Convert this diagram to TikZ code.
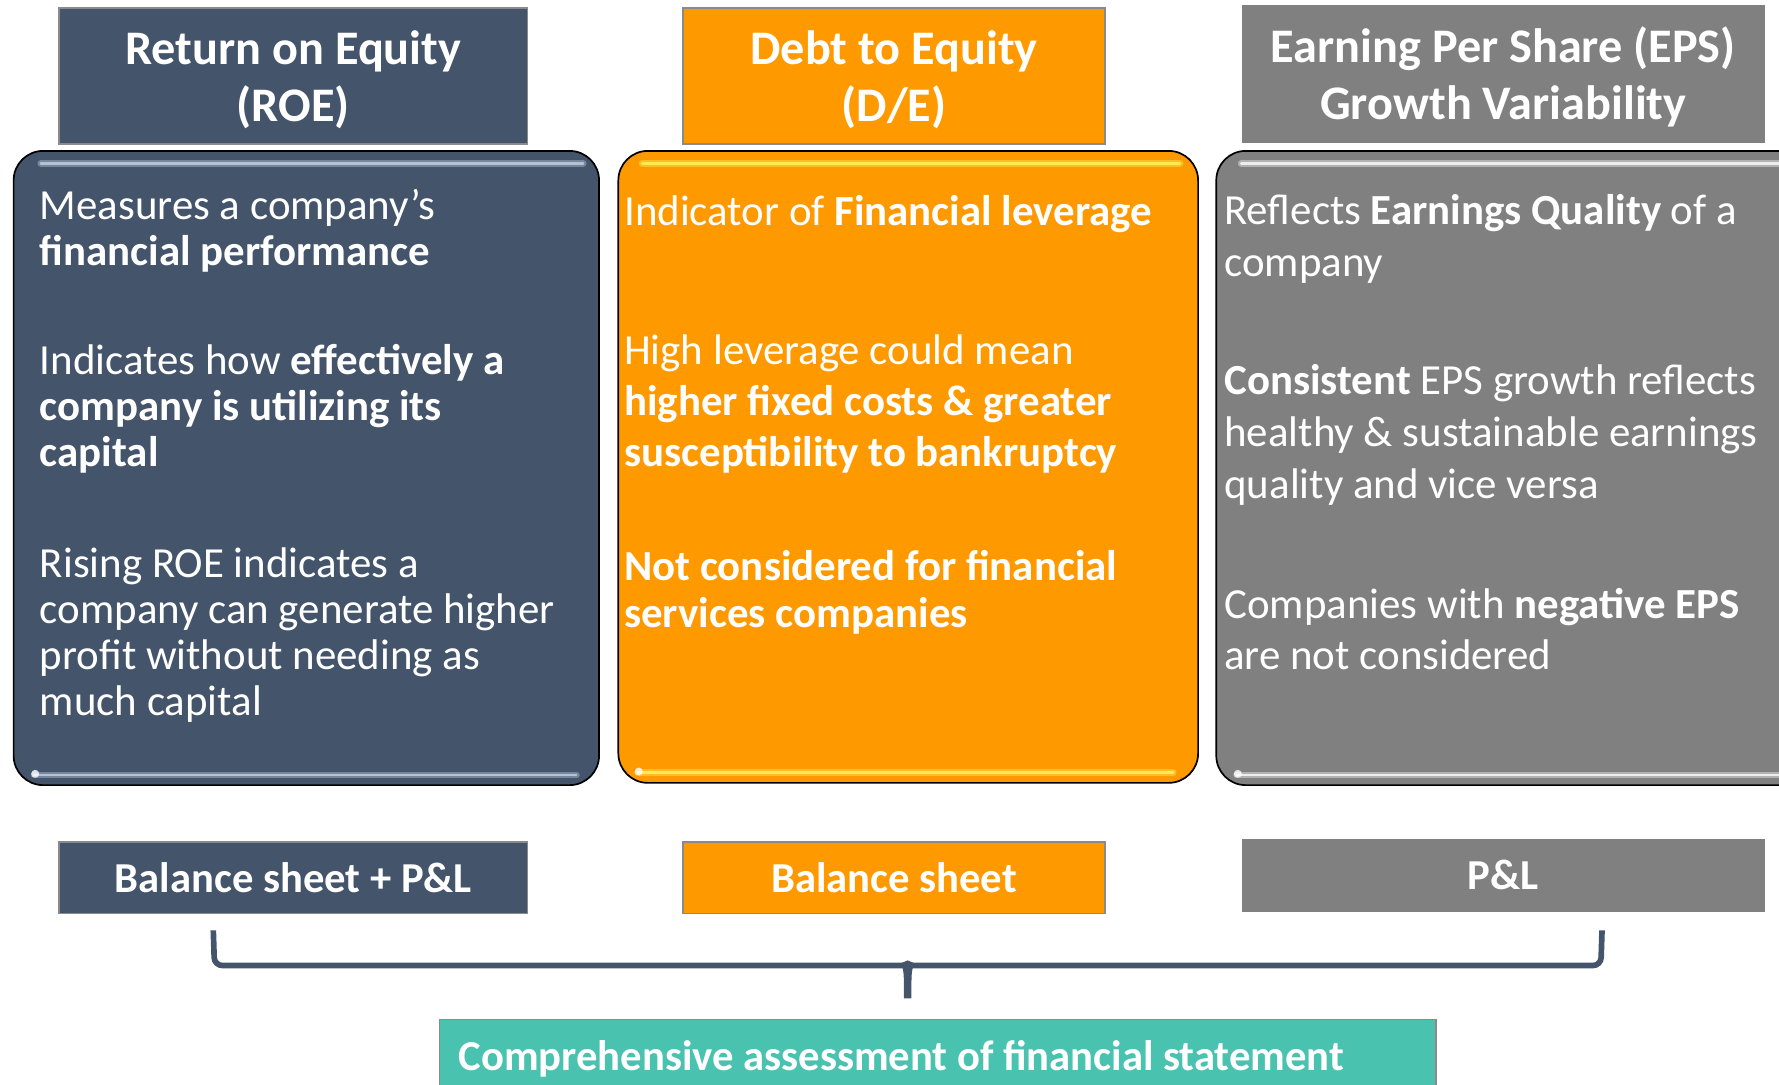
\documentclass[tikz,border=0pt]{standalone}
\usepackage{fontspec}
\setmainfont{Carlito}
\definecolor{slate}{HTML}{44546A}
\definecolor{slatehi}{HTML}{B4C2D6}
\definecolor{amber}{HTML}{FF9900}
\definecolor{amberhi}{HTML}{FFEA55}
\definecolor{stone}{HTML}{808080}
\definecolor{stonehi}{HTML}{EDEDED}
\definecolor{teal}{HTML}{4AC2B0}
\definecolor{edgegray}{HTML}{8A8A8A}
\begin{document}
\begin{tikzpicture}[x=1pt,y=-1pt,
  headbox/.style={draw=edgegray, line width=1.2pt, text=white, align=center,
    inner sep=0pt, font=\fontsize{42.5}{50}\selectfont\bfseries},
  panel/.style={draw=black, line width=1.5pt, rounded corners=26pt, inner sep=0pt},
  srcbox/.style={draw=edgegray, line width=1.2pt, text=white, inner sep=0pt,
    minimum height=63pt, font=\fontsize{37.6}{44}\selectfont\bfseries},
  bodytxt/.style={text=white, align=left, inner sep=0pt, anchor=base west},
  headtxt/.style={text=white, align=center, inner sep=0pt, font=\fontsize{42.5}{50}\selectfont\bfseries},
  glosswide/.style={line width=6pt, line cap=round, opacity=0.45},
  glossthin/.style={line width=2.2pt, line cap=round}
]
\clip (0,0) rectangle (1568,956);

% column headers
\node[headbox, fill=slate, minimum width=413pt, minimum height=120pt] (h1) at (258.5,67) {};
\node[headbox, fill=amber, minimum width=372pt, minimum height=120pt] (h2) at (788,67) {};
\node[headbox, fill=stone, draw=stone, minimum width=460pt, minimum height=120pt] (h3) at (1325,65) {};
\node[headtxt] (h1t) at ([yshift=-3pt]h1.center) {Return on Equity\\(ROE)};
\node[headtxt] (h2t) at ([yshift=-3pt]h2.center) {Debt to Equity\\(D/E)};
\node[headtxt] (h3t) at ([yshift=-3pt]h3.center) {Earning Per Share (EPS)\\Growth Variability};

% rounded description panels
\node[panel, fill=slate, minimum width=516pt, minimum height=559pt] (p1) at (270,412.5) {};
\node[panel, fill=amber, minimum width=511pt, minimum height=557pt] (p2) at (800.5,411.5) {};
\node[panel, fill=stone, minimum width=540pt, minimum height=559pt] (p3) at (1342,412.5) {};

% glossy highlight strips
\foreach \c/\xa/\xb/\ya/\xc/\xd/\yb in {slatehi/36/514/144/30/508/683, amberhi/566/1040/144/562/1034/681, stonehi/1094/1568/144/1090/1568/683}{
  \draw[glosswide, \c] (\xa,\ya) -- (\xb,\ya);
  \draw[glossthin, \c] (\xa,\ya) -- (\xb,\ya);
  \draw[glosswide, \c] (\xc,\yb) -- (\xd,\yb);
  \draw[glossthin, \c] (\xc,\yb) -- (\xd,\yb);
  \fill[white, opacity=0.8] (\xc+1,\yb-1) circle (3.5pt);
}

% panel texts (each node is anchored at the baseline of its last line)
\begin{scope}[every node/.append style={font=\fontsize{37.8}{40.5}\selectfont}]
\node[bodytxt] (t11) at (35,234) {Measures a company’s\\\textbf{financial performance}};
\node[bodytxt] (t12) at (35,411) {Indicates how \textbf{effectively a}\\\textbf{company is utilizing its}\\\textbf{capital}};
\node[bodytxt] (t13) at (35,630.5) {Rising ROE indicates a\\company can generate higher\\profit without needing as\\much capital};
\end{scope}
\node[bodytxt, font=\fontsize{37.8}{45}\selectfont] (t21) at (550,199) {Indicator of \textbf{Financial leverage}};
\node[bodytxt, font=\fontsize{37.8}{45}\selectfont] (t22) at (550,411) {High leverage could mean\\\textbf{higher fixed costs \& greater}\\\textbf{susceptibility to bankruptcy}};
\node[bodytxt, font=\fontsize{37.8}{41}\selectfont] (t23) at (550,553) {\textbf{Not considered for financial}\\\textbf{services companies}};
\begin{scope}[every node/.append style={font=\fontsize{37.8}{45.5}\selectfont}]
\node[bodytxt] (t31) at (1079,243.5) {Reflects \textbf{Earnings Quality} of a\\company};
\node[bodytxt] (t32) at (1079,439) {\textbf{Consistent} EPS growth reflects\\healthy \& sustainable earnings\\quality and vice versa};
\node[bodytxt] (t33) at (1079,590.5) {Companies with \textbf{negative EPS}\\are not considered};
\end{scope}

% data sources
\node[srcbox, fill=slate, minimum width=413pt] (s1) at (258.5,773.5) {Balance sheet + P\&L};
\node[srcbox, fill=amber, minimum width=372pt] (s2) at (788,773.5) {Balance sheet};
\node[srcbox, fill=stone, draw=stone, minimum width=460pt] (s3) at (1325,771.5) {P\&L};

% grouping brace
\coordinate (bl) at (188,820);
\coordinate (br) at (1412,820);
\draw[slate, line width=5pt, rounded corners=7pt] (bl) -- (189,851) -- (1411,851) -- (br);
\fill[slate] (794,849) -- (800,846.5) -- (806,849) .. controls (803.3,856) .. (803.3,880) -- (796.7,880) .. controls (796.7,856) .. cycle;

% conclusion
\node[draw=edgegray, line width=1.2pt, fill=teal, anchor=north west,
  minimum width=878pt, minimum height=70pt, inner sep=0pt] (c) at (387,898) {};
\node[text=white, anchor=west, inner sep=0pt, font=\fontsize{37.6}{44}\selectfont\bfseries]
  (ct) at ([xshift=17pt]c.west) {Comprehensive assessment of financial statement};
\end{tikzpicture}
\end{document}
